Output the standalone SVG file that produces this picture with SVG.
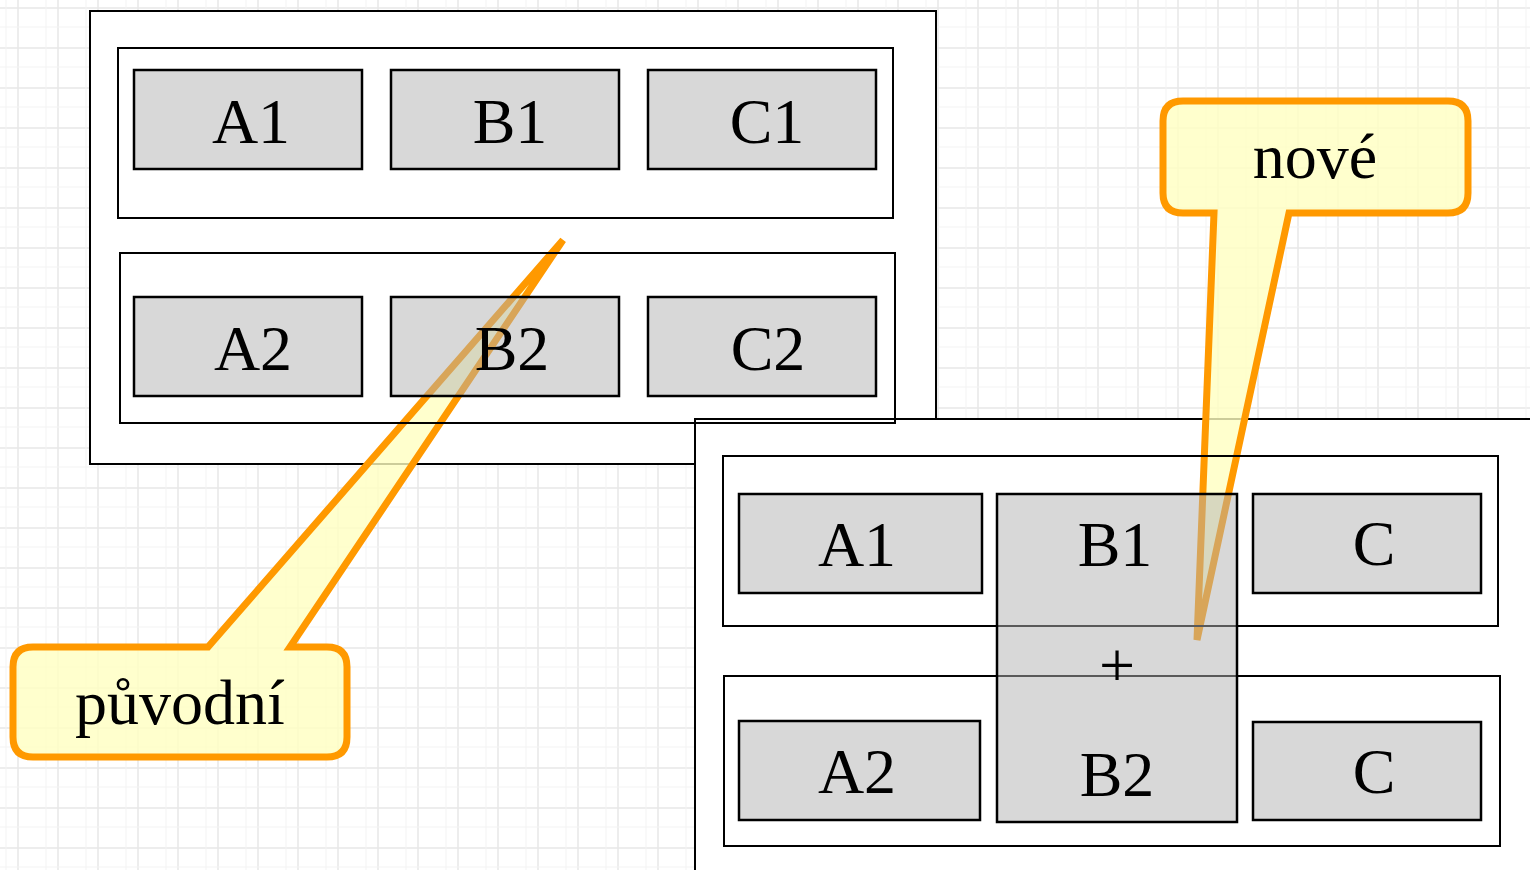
<svg xmlns="http://www.w3.org/2000/svg" width="1530" height="870" viewBox="0 0 1530 870">
<defs>
<pattern id="grid" x="0" y="0" width="40" height="40" patternUnits="userSpaceOnUse">
<rect width="40" height="40" fill="#ffffff"/>
<path d="M18 0V40M0 8H40" stroke="#e8e8e8" stroke-width="1.5" fill="none"/>
<path d="M6 0V40M0 27H40" stroke="#f3f3f3" stroke-width="1" fill="none"/>
</pattern>
<style>
.panel{fill:#ffffff;stroke:#000;stroke-width:2}
.cont{fill:none;stroke:#000;stroke-width:2}
.box{fill:#b2b2b2;fill-opacity:0.5;stroke:#000;stroke-width:2.5}
.lbl{font-family:"Liberation Serif","Times New Roman",serif;font-size:64px;fill:#000;text-anchor:middle}
.callout{fill:#ffffc0;fill-opacity:0.8;stroke:#ff9900;stroke-width:7;stroke-linejoin:miter}
</style>
</defs>
<rect width="1530" height="870" fill="url(#grid)"/>

<g id="panel-left-bg"><rect class="panel" x="90" y="11" width="846" height="453"/></g>
<g id="panel-right-bg"><rect class="panel" x="695" y="419" width="850" height="470"/></g>

<g id="callouts">
<g id="callout-puvodni">
<path class="callout" d="M33 647 H208 L563 240 L290 647 H327 Q347 647 347 667 V737 Q347 757 327 757 H33 Q13 757 13 737 V667 Q13 647 33 647 Z"/>
<text class="lbl" x="180" y="724">původní</text>
</g>
<g id="callout-nove">
<path class="callout" d="M1183 101 H1448 Q1468 101 1468 121 V193 Q1468 213 1448 213 H1289 L1197 640 L1214 213 H1183 Q1163 213 1163 193 V121 Q1163 101 1183 101 Z"/>
<text class="lbl" x="1315" y="178">nové</text>
</g>
</g>

<g id="left-structure">
<rect class="cont" x="118" y="48" width="775" height="170"/>
<rect class="cont" x="120" y="253" width="775" height="170"/>
<g id="l-A1"><rect class="box" x="134" y="70" width="228" height="99"/><text class="lbl" x="251" y="143">A1</text></g>
<g id="l-B1"><rect class="box" x="391" y="70" width="228" height="99"/><text class="lbl" x="510" y="143">B1</text></g>
<g id="l-C1"><rect class="box" x="648" y="70" width="228" height="99"/><text class="lbl" x="767" y="143">C1</text></g>
<g id="l-A2"><rect class="box" x="134" y="297" width="228" height="99"/><text class="lbl" x="253" y="370">A2</text></g>
<g id="l-B2"><rect class="box" x="391" y="297" width="228" height="99"/><text class="lbl" x="512" y="370">B2</text></g>
<g id="l-C2"><rect class="box" x="648" y="297" width="228" height="99"/><text class="lbl" x="768" y="370">C2</text></g>
</g>

<g id="right-structure">
<rect class="cont" x="723" y="456" width="775" height="170"/>
<rect class="cont" x="724" y="676" width="776" height="170"/>
<g id="r-A1"><rect class="box" x="739" y="494" width="243" height="99"/><text class="lbl" x="857" y="566">A1</text></g>
<g id="r-B12"><rect class="box" x="997" y="494" width="240" height="328"/><text class="lbl" x="1115" y="566">B1</text><text class="lbl" x="1117" y="687">+</text><text class="lbl" x="1117" y="796">B2</text></g>
<g id="r-C1"><rect class="box" x="1253" y="494" width="228" height="99"/><text class="lbl" x="1374" y="565">C</text></g>
<g id="r-A2"><rect class="box" x="739" y="721" width="241" height="99"/><text class="lbl" x="857" y="793">A2</text></g>
<g id="r-C2"><rect class="box" x="1253" y="722" width="228" height="98"/><text class="lbl" x="1374" y="793">C</text></g>
</g>
</svg>
